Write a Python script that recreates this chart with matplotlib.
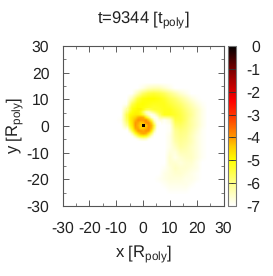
import numpy as np
import matplotlib
matplotlib.use("Agg")
import matplotlib.pyplot as plt
from matplotlib.colors import LinearSegmentedColormap, Normalize
from matplotlib.cm import ScalarMappable
from matplotlib.ticker import MultipleLocator

plt.rcParams['font.family'] = ['Liberation Sans', 'DejaVu Sans']
plt.rcParams['mathtext.fontset'] = 'custom'
plt.rcParams['mathtext.rm'] = 'Liberation Sans'
plt.rcParams['mathtext.default'] = 'rm'
plt.rcParams['axes.unicode_minus'] = False
plt.rcParams['text.hinting'] = 'none'

title = r"t=9344 [t$_{\mathrm{poly}}$]"
xlabel = r"x [R$_{\mathrm{poly}}$]"
ylabel = r"y [R$_{\mathrm{poly}}$]"
axis_ticks = [-30, -20, -10, 0, 10, 20, 30]
cbar_ticks = [-7, -6, -5, -4, -3, -2, -1, 0]

cmap_levels = [-7, -6, -5, -4.4, -4, -3.2, -2.4, -1.5, -0.8, 0]
cmap_colors = ['#ffffff', '#ffff88', '#ffff00', '#ffcc00', '#ff9900', '#ff4400',
               '#ff0000', '#aa0000', '#600000', '#000000']

# coarse field: x = -10..30 step 2, y = 16..-28 step 2
outer_x = [-10, 30]
outer_y = [-28, 16]
outer = np.array([
 [-7,-7,-7,-7,-7,-7,-7,-7,-7,-7,-7,-7,-7,-7,-7,-7,-7,-7,-7,-7,-7],
 [-7,-7,-7,-7,-7,-6.8,-6.5,-6.4,-6.4,-6.6,-6.8,-7,-7,-7,-7,-7,-7,-7,-7,-7,-7],
 [-7,-7,-7,-7,-6.4,-5.8,-5.5,-5.4,-5.5,-5.7,-6.0,-6.3,-6.6,-6.8,-7,-7,-7,-7,-7,-7,-7],
 [-7,-7,-7,-6.4,-5.5,-5.1,-5.0,-5.0,-5.1,-5.3,-5.6,-5.8,-6.1,-6.4,-6.7,-6.9,-7,-7,-7,-7,-7],
 [-7,-7,-6.9,-5.6,-5.1,-5.0,-5.1,-5.2,-5.2,-5.2,-5.4,-5.6,-5.8,-6.1,-6.4,-6.7,-6.9,-7,-7,-7,-7],
 [-7,-7,-6.2,-5.1,-4.9,-5.1,-5.3,-5.4,-5.3,-5.2,-5.2,-5.4,-5.6,-5.9,-6.2,-6.5,-6.8,-7,-7,-7,-7],
 [-7,-7,-5.6,-4.9,-4.8,-6.3,-6.8,-6.6,-5.7,-5.2,-5.2,-5.3,-5.5,-5.8,-6.1,-6.5,-6.8,-7,-7,-7,-7],
 [-7,-6.9,-5.7,-4.7,-4.3,-4.2,-4.2,-5.0,-6.6,-6.9,-6.6,-5.5,-5.5,-5.8,-6.2,-6.5,-6.8,-7,-7,-7,-7],
 [-7,-7,-6.2,-4.4,-4.2,-4.5,-4.4,-4.2,-7,-7,-6.9,-5.8,-5.7,-5.9,-6.2,-6.5,-6.8,-7,-7,-7,-7],
 [-7,-7,-7,-5.3,-4.2,-4.0,-4.1,-5.0,-7,-7,-6.9,-6.1,-5.9,-6.0,-6.3,-6.6,-6.9,-7,-7,-7,-7],
 [-7,-7,-7,-6.3,-5.6,-5.2,-5.6,-6.6,-7,-7,-6.8,-6.2,-6.0,-6.1,-6.4,-6.7,-6.9,-7,-7,-7,-7],
 [-7,-7,-7,-7,-7,-7,-7,-7,-7,-7,-6.8,-6.3,-6.1,-6.2,-6.4,-6.7,-6.9,-7,-7,-7,-7],
 [-7,-7,-7,-7,-7,-7,-7,-7,-7,-7,-6.8,-6.5,-6.2,-6.3,-6.5,-6.7,-6.9,-7,-7,-7,-7],
 [-7,-7,-7,-7,-7,-7,-7,-7,-7,-7,-6.7,-6.7,-6.4,-6.4,-6.5,-6.7,-6.9,-7,-7,-7,-7],
 [-7,-7,-7,-7,-7,-7,-7,-7,-7,-7,-6.6,-6.8,-6.6,-6.5,-6.5,-6.7,-6.9,-7,-7,-7,-7],
 [-7,-7,-7,-7,-7,-7,-7,-7,-7,-7,-6.6,-6.6,-6.7,-6.6,-6.6,-6.8,-7,-7,-7,-7,-7],
 [-7,-7,-7,-7,-7,-7,-7,-7,-7,-6.9,-6.7,-6.5,-6.6,-6.6,-6.7,-6.8,-7,-7,-7,-7,-7],
 [-7,-7,-7,-7,-7,-7,-7,-7,-7,-6.8,-6.7,-6.6,-6.6,-6.7,-6.8,-6.9,-7,-7,-7,-7,-7],
 [-7,-7,-7,-7,-7,-7,-7,-7,-6.9,-6.8,-6.7,-6.7,-6.7,-6.8,-6.8,-6.9,-7,-7,-7,-7,-7],
 [-7,-7,-7,-7,-7,-7,-7,-7,-7,-6.9,-6.8,-6.8,-6.8,-6.8,-6.9,-7,-7,-7,-7,-7,-7],
 [-7,-7,-7,-7,-7,-7,-7,-7,-7,-7,-6.9,-6.9,-6.9,-6.9,-7,-7,-7,-7,-7,-7,-7],
 [-7,-7,-7,-7,-7,-7,-7,-7,-7,-7,-7,-7,-7,-7,-7,-7,-7,-7,-7,-7,-7],
 [-7,-7,-7,-7,-7,-7,-7,-7,-7,-7,-7,-7,-7,-7,-7,-7,-7,-7,-7,-7,-7],
])

# fine field around the centre: x = -6..6, y = 6..-6 step 1
inner_x = [-6, 6]
inner_y = [-6, 6]
inner = np.array([
 [-6.2,-5.6,-5.1,-5.0,-4.9,-4.9,-5.1,-5.4,-5.5,-5.4,-5.3,-5.3,-5.3],
 [-5.9,-5.3,-5.0,-4.9,-4.9,-5.1,-5.8,-6.5,-6.6,-6.2,-5.9,-5.6,-5.4],
 [-5.6,-5.0,-4.9,-4.8,-4.8,-4.9,-5.4,-6.1,-6.7,-6.9,-6.7,-6.2,-5.7],
 [-5.6,-4.9,-4.7,-4.5,-4.2,-4.1,-4.2,-4.9,-5.7,-6.6,-6.9,-6.8,-6.2],
 [-5.7,-4.9,-4.6,-4.2,-3.9,-4.0,-4.0,-3.9,-4.4,-5.4,-6.6,-6.9,-6.7],
 [-5.9,-5.0,-4.6,-4.0,-4.1,-4.4,-4.3,-3.9,-3.9,-4.5,-6.0,-6.9,-7.0],
 [-6.2,-5.2,-4.7,-4.0,-4.2,-4.5,-4.4,-4.4,-3.9,-4.2,-5.4,-6.8,-7.0],
 [-6.7,-5.6,-4.9,-4.1,-4.1,-4.5,-4.4,-4.2,-3.9,-4.3,-5.6,-6.9,-7.0],
 [-7.0,-6.3,-5.3,-4.5,-4.0,-4.0,-4.1,-3.9,-4.0,-4.8,-6.2,-7.0,-7.0],
 [-7.0,-6.9,-6.2,-5.2,-4.6,-4.2,-4.1,-4.2,-4.8,-5.7,-6.8,-7.0,-7.0],
 [-7.0,-7.0,-6.9,-6.3,-5.6,-5.1,-5.0,-5.2,-5.8,-6.6,-7.0,-7.0,-7.0],
 [-7.0,-7.0,-7.0,-7.0,-6.8,-6.5,-6.4,-6.5,-6.9,-7.0,-7.0,-7.0,-7.0],
 [-7.0,-7.0,-7.0,-7.0,-7.0,-7.0,-7.0,-7.0,-7.0,-7.0,-7.0,-7.0,-7.0],
])

# densest central cell
core = np.array([[-0.1]])
core_x = [-0.4, 0.6]
core_y = [-0.5, 0.5]

W, H = 273, 276
fig = plt.figure(figsize=(W/100, H/100), dpi=100)
ax = fig.add_axes([62.5/W, 1-206/H, 161/W, 160/H])
cax = fig.add_axes([227.5/W, 1-206/H, 8/W, 160/H])

span = cmap_levels[-1] - cmap_levels[0]
cmap = LinearSegmentedColormap.from_list(
    'heat', [((l - cmap_levels[0]) / span, c) for l, c in zip(cmap_levels, cmap_colors)], N=512)
norm = Normalize(-7, 0)

dx, dy = 1.0, 1.0
ax.imshow(outer, extent=[outer_x[0]-dx, outer_x[1]+dx, outer_y[0]-dy, outer_y[1]+dy],
          origin='upper', cmap=cmap, norm=norm, interpolation='bilinear', aspect='auto', zorder=1)
ax.imshow(inner, extent=[inner_x[0]-.5, inner_x[1]+.5, inner_y[0]-.5, inner_y[1]+.5],
          origin='upper', cmap=cmap, norm=norm, interpolation='bilinear', aspect='auto', zorder=2)
ax.imshow(core, extent=[core_x[0], core_x[1], core_y[0], core_y[1]],
          origin='upper', cmap=cmap, norm=norm, interpolation='nearest', aspect='auto', zorder=3)
ax.set_xlim(-30, 30)
ax.set_ylim(-30, 30)
ax.set_xticks(axis_ticks)
ax.set_yticks(axis_ticks)
ax.xaxis.set_minor_locator(MultipleLocator(5))
ax.yaxis.set_minor_locator(MultipleLocator(5))
ax.tick_params(which='major', direction='in', length=4, width=0.6, top=True, right=True,
               color='#444444', labelsize=11.3, labelcolor='#222222')
ax.tick_params(which='minor', direction='in', length=2, width=0.6, top=True, right=True, color='#666666')
ax.tick_params(axis='x', which='major', pad=10.8)
ax.tick_params(axis='y', which='major', pad=9.5)
for s in ax.spines.values():
    s.set_linewidth(0.8)
    s.set_color('#555555')

cb = fig.colorbar(ScalarMappable(norm=norm, cmap=cmap), cax=cax, ticks=cbar_ticks)
cb.ax.tick_params(direction='in', length=3.5, width=0.6, color='#333333', left=True, right=True,
                  labelsize=11.3, labelcolor='#222222', pad=17.6)
for t in cb.ax.get_yticklabels():
    t.set_horizontalalignment('right')
cb.outline.set_linewidth(0.8)
cb.outline.set_edgecolor('#777777')

fig.text(143/W, 1-20/H, title, ha='center', va='center', fontsize=12, color='#222222')
fig.text(143/W, 1-254/H, xlabel, ha='center', va='center', fontsize=12, color='#222222')
fig.text(15/W, 1-126/H, ylabel, ha='center', va='center', rotation=90, fontsize=12, color='#222222')

fig.savefig('out.png', dpi=100)
